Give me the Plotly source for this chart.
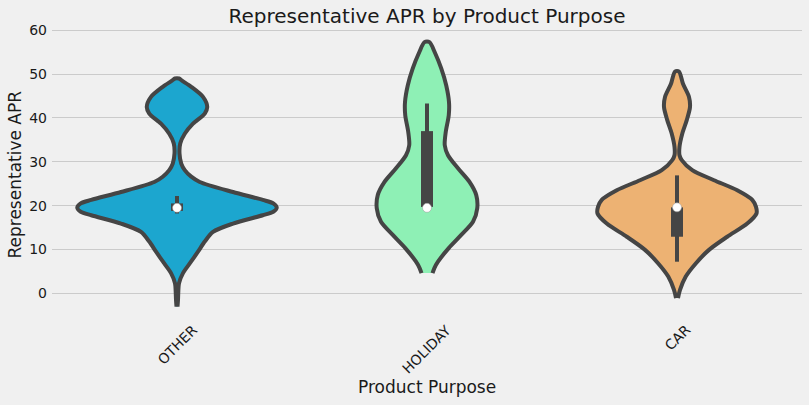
import plotly.graph_objects as go

# ---- data ----
categories = ["OTHER", "HOLIDAY", "CAR"]
fill_colors = ["#1ca6cf", "#8ef0b5", "#edb273"]

# violin density outlines: APR levels and half-widths (in category units)
other_y = [-3.05, -1.5, 0.0, 2.3, 4.6, 6.8, 9.5, 11.8, 14.0, 15.9, 17.8, 18.6, 19.5, 20.5, 21.3,
           23.1, 25.4, 26.6, 28.1, 29.6, 31.9, 34.2, 36.4, 38.7, 41.0, 42.5, 44.8, 47.1, 48.5, 49.0]
other_w = [0.002, 0.004, 0.005, 0.008, 0.024, 0.051, 0.084, 0.111, 0.144, 0.224, 0.343, 0.385, 0.399, 0.385, 0.343,
           0.224, 0.091, 0.057, 0.031, 0.017, 0.010, 0.013, 0.031, 0.064, 0.111, 0.121, 0.104, 0.057, 0.020, 0.008]

holiday_y = [4.6, 5.8, 7.2, 10.3, 13.3, 16.3, 19.4, 22.4, 25.4, 28.5, 31.5, 33.8, 36.8, 40.6, 43.6,
             47.4, 51.3, 55.0, 57.3]
holiday_w = [0.022, 0.030, 0.044, 0.087, 0.137, 0.184, 0.201, 0.197, 0.170, 0.124, 0.084, 0.071, 0.075, 0.087, 0.088,
             0.077, 0.057, 0.031, 0.010]

car_y = [-1.1, 0.75, 3.8, 6.8, 9.9, 12.9, 15.9, 18.2, 19.7, 21.3, 23.5, 25.8, 28.1, 30.4, 31.5, 33.4,
         36.4, 39.5, 42.5, 44.8, 47.8, 50.6]
car_w = [0.004, 0.012, 0.035, 0.075, 0.128, 0.201, 0.281, 0.318, 0.316, 0.301, 0.241, 0.148, 0.061, 0.019, 0.010, 0.010,
         0.021, 0.039, 0.052, 0.048, 0.024, 0.008]

# inner box statistics
box_q1 = [18.8, 19.7, 12.9]
box_q3 = [20.5, 37.0, 19.6]
whisk_lo = [18.2, 19.5, 7.2]
whisk_hi = [22.2, 43.3, 26.9]
medians = [19.5, 19.5, 19.6]

y_ticks = [0, 10, 20, 30, 40, 50, 60]

# ---- figure ----
LINE = "#454545"
BG = "#f0f0f0"
fig = go.Figure()

profiles = [(other_y, other_w), (holiday_y, holiday_w), (car_y, car_w)]
for i, (ys, ws) in enumerate(profiles):
    xs = [i - w for w in ws] + [i + w for w in reversed(ws)]
    yy = list(ys) + list(reversed(ys))
    fig.add_trace(go.Scatter(
        x=xs, y=yy, mode="lines", fill="toself", fillcolor=fill_colors[i],
        line=dict(color=LINE, width=4, shape="spline", smoothing=0.8),
        hoverinfo="skip", showlegend=False))

for i in range(len(categories)):
    fig.add_trace(go.Scatter(x=[i, i], y=[whisk_lo[i], whisk_hi[i]], mode="lines",
                             line=dict(color=LINE, width=4), hoverinfo="skip", showlegend=False))
    fig.add_trace(go.Scatter(x=[i, i], y=[box_q1[i], box_q3[i]], mode="lines",
                             line=dict(color=LINE, width=12), hoverinfo="skip", showlegend=False))

fig.add_trace(go.Scatter(x=list(range(len(categories))), y=medians, mode="markers",
                         marker=dict(color="white", size=9, line=dict(color="#999999", width=0.5)),
                         hoverinfo="skip", showlegend=False))

FONT = "DejaVu Sans"
annotations = []
for i, c in enumerate(categories):
    annotations.append(dict(x=i, y=0, xref="x", yref="paper", text=c, showarrow=False,
                            textangle=-45, xanchor="center", yanchor="top", yshift=1,
                            font=dict(family=FONT, size=14, color="#1a1a1a")))
annotations.append(dict(x=0.5, y=0, xref="paper", yref="paper", text="Product Purpose",
                        showarrow=False, xanchor="center", yanchor="middle", yshift=-67,
                        font=dict(family=FONT, size=17, color="#1a1a1a")))
annotations.append(dict(x=0, y=0.5, xref="paper", yref="paper", text="Representative APR",
                        showarrow=False, xanchor="center", yanchor="middle", xshift=-38,
                        textangle=-90, font=dict(family=FONT, size=17, color="#1a1a1a")))

fig.update_layout(
    width=809, height=405,
    margin=dict(l=52, r=7, t=29, b=85),
    paper_bgcolor=BG, plot_bgcolor=BG,
    font=dict(family=FONT, size=14, color="#1a1a1a"),
    title=dict(text="Representative APR by Product Purpose", x=0.5, xref="paper",
               y=1 - 16 / 405, yref="container", xanchor="center", yanchor="middle",
               font=dict(family=FONT, size=20, color="#1a1a1a")),
    xaxis=dict(range=[-0.5, 2.5], showgrid=False, zeroline=False, showticklabels=False,
               showline=False, ticks=""),
    yaxis=dict(range=[-6.1, 60.3], tickvals=y_ticks, showgrid=True, gridcolor="#cbcbcb",
               gridwidth=1, zeroline=False, showline=False, ticks="",
               tickfont=dict(family=FONT, size=14, color="#1a1a1a"), ticklabelstandoff=4),
    annotations=annotations,
)

fig.write_html("out.html")
